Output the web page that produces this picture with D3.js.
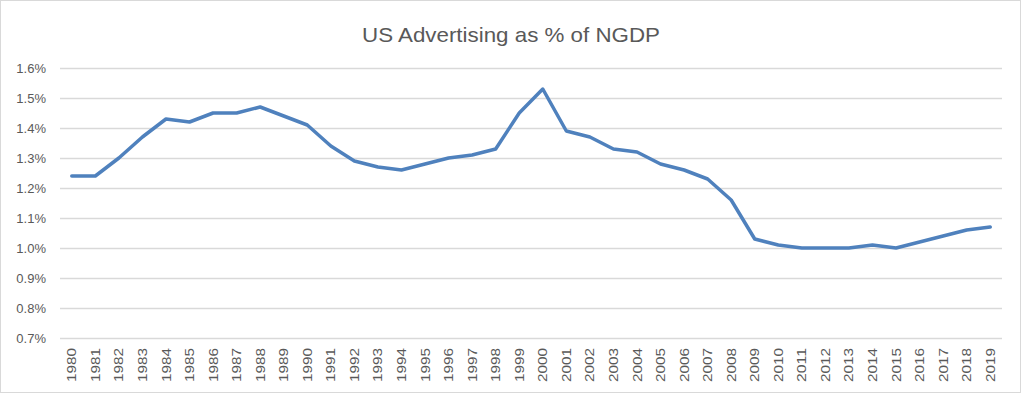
<!DOCTYPE html>
<html>
<head>
<meta charset="utf-8">
<script src="https://cdn.jsdelivr.net/npm/d3@7"></script>
<style>
  body { margin: 0; background: #fff; }
  svg { display: block; }
</style>
</head>
<body>
<div id="chart"></div>
<script>
'use strict';

var years = [1980, 1981, 1982, 1983, 1984, 1985, 1986, 1987, 1988, 1989,
  1990, 1991, 1992, 1993, 1994, 1995, 1996, 1997, 1998, 1999,
  2000, 2001, 2002, 2003, 2004, 2005, 2006, 2007, 2008, 2009,
  2010, 2011, 2012, 2013, 2014, 2015, 2016, 2017, 2018, 2019];

// advertising share of nominal GDP, in percent
var adShare = [1.24, 1.24, 1.30, 1.37, 1.43, 1.42, 1.45, 1.45, 1.47, 1.44,
  1.41, 1.34, 1.29, 1.27, 1.26, 1.28, 1.30, 1.31, 1.33, 1.45,
  1.53, 1.39, 1.37, 1.33, 1.32, 1.28, 1.26, 1.23, 1.16, 1.03,
  1.01, 1.00, 1.00, 1.00, 1.01, 1.00, 1.02, 1.04, 1.06, 1.07];

var yTicks = [0.7, 0.8, 0.9, 1.0, 1.1, 1.2, 1.3, 1.4, 1.5, 1.6];

var title = 'US Advertising as % of NGDP';

var width = 1022, height = 394;
var plot = { left: 60, right: 1002, top: 68, bottom: 338 };
var textColor = '#595959';

var svg = d3.select('#chart').append('svg')
  .attr('width', width)
  .attr('height', height);

// outer chart border
svg.append('rect')
  .attr('x', 0.5)
  .attr('y', 0.5)
  .attr('width', width - 2)
  .attr('height', height - 2)
  .attr('fill', '#fff')
  .attr('stroke', '#d9d9d9');

var x = d3.scaleBand()
  .domain(years)
  .range([plot.left, plot.right]);

var y = d3.scaleLinear()
  .domain([0.7, 1.6])
  .range([plot.bottom, plot.top]);

svg.append('text')
  .attr('x', width / 2)
  .attr('y', 42)
  .attr('text-anchor', 'middle')
  .attr('textLength', 298)
  .attr('lengthAdjust', 'spacingAndGlyphs')
  .style('font-family', 'Liberation Sans, Arial, sans-serif')
  .style('font-size', '21px')
  .style('fill', textColor)
  .text(title);

// gridlines + y labels
var yAxis = d3.axisLeft(y)
  .tickValues(yTicks)
  .tickSize(-(plot.right - plot.left))
  .tickPadding(14)
  .tickFormat(function(d) { return d.toFixed(1) + '%'; });

var gy = svg.append('g')
  .attr('transform', 'translate(' + plot.left + ',0)')
  .call(yAxis);
gy.select('.domain').remove();
gy.selectAll('line')
  .attr('stroke', '#d9d9d9')
  .attr('stroke-width', 1.3);
gy.selectAll('text')
  .style('font-family', 'Liberation Sans, Arial, sans-serif')
  .style('font-size', '13px')
  .style('fill', textColor);

// year labels, rotated
var xAxis = d3.axisBottom(x)
  .tickSize(0)
  .tickPadding(0);

var gx = svg.append('g')
  .attr('transform', 'translate(0,' + plot.bottom + ')')
  .call(xAxis);
gx.select('.domain').remove();
gx.selectAll('text')
  .attr('transform', 'rotate(-90)')
  .attr('x', -10)
  .attr('y', 0)
  .attr('dy', '0.35em')
  .attr('text-anchor', 'end')
  .attr('textLength', 34)
  .attr('lengthAdjust', 'spacingAndGlyphs')
  .style('font-family', 'Liberation Sans, Arial, sans-serif')
  .style('font-size', '13px')
  .style('fill', textColor);

var line = d3.line()
  .x(function(d, i) { return x(years[i]) + x.bandwidth() / 2; })
  .y(function(d) { return y(d); });

svg.append('path')
  .datum(adShare)
  .attr('d', line)
  .attr('fill', 'none')
  .attr('stroke', '#4f81bd')
  .attr('stroke-width', 3.5)
  .attr('stroke-linejoin', 'round')
  .attr('stroke-linecap', 'round');
</script>
</body>
</html>
